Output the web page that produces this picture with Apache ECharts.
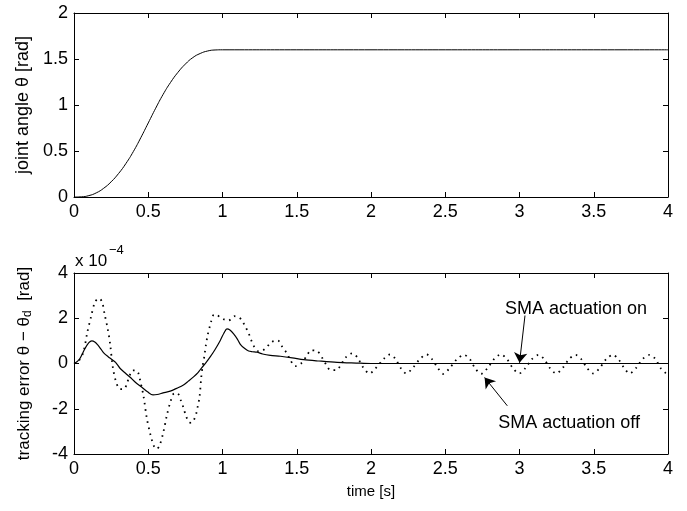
<!DOCTYPE html>
<html><head><meta charset="utf-8">
<script src="https://cdn.jsdelivr.net/npm/echarts@6/dist/echarts.min.js"></script>
<style>html,body{margin:0;padding:0;background:#fff}#c{width:687px;height:511px}</style>
</head><body><div id="c"></div>
<script>
// ---- data ----
const angleT = [0,0.05,0.1,0.15,0.2,0.25,0.3,0.35,0.4,0.45,0.5,0.55,0.6,0.65,0.7,0.75,0.8,0.85,0.9,0.95,1.0,1.5,2.0,2.5,3.0,3.5,4.0];
const angleV = [0,0.002,0.015,0.045,0.095,0.165,0.255,0.365,0.495,0.645,0.805,0.965,1.115,1.245,1.355,1.445,1.515,1.56,1.587,1.598,1.6,1.6,1.6,1.6,1.6,1.6,1.6];

const onT = [0,0.02,0.04,0.074,0.1,0.12,0.14,0.16,0.18,0.2,0.23,0.255,0.28,0.311,0.345,0.378,0.415,0.457,0.495,0.532,0.56,0.6,0.648,0.69,0.737,0.77,0.805,0.835,0.861,0.89,0.917,0.95,0.985,1.01,1.03,1.05,1.075,1.1,1.12,1.15,1.176,1.2,1.232,1.27,1.322,1.39,1.47,1.547,1.65,1.772,1.9,2.0,2.5,3.0,3.5,4.0];
const onV = [0,0.08,0.22,0.66,0.92,1.0,0.95,0.82,0.65,0.47,0.3,0.18,0.05,-0.22,-0.42,-0.61,-0.84,-1.05,-1.25,-1.39,-1.37,-1.3,-1.22,-1.1,-0.95,-0.78,-0.59,-0.4,-0.18,0.05,0.29,0.62,1.02,1.35,1.53,1.48,1.31,1.08,0.85,0.66,0.55,0.52,0.5,0.42,0.36,0.32,0.25,0.17,0.11,0.05,0.02,0.0,0.0,0.0,0.0,0.0];

const offT = [0,0.03,0.063,0.09,0.115,0.142,0.17,0.19,0.205,0.227,0.243,0.261,0.283,0.31,0.337,0.36,0.38,0.396,0.415,0.434,0.445,0.468,0.49,0.513,0.535,0.555,0.575,0.603,0.625,0.652,0.675,0.697,0.72,0.737,0.753,0.775,0.79,0.805,0.823,0.834,0.845,0.857,0.866,0.877,0.888,0.9,0.913,0.924,0.942,0.96,0.985,1.01,1.041,1.06,1.081,1.105,1.127,1.153,1.176,1.194,1.217,1.24,1.27,1.295,1.33,1.372,1.4,1.435,1.457,1.49,1.529,1.563,1.597,1.637,1.67,1.7,1.727,1.767,1.8,1.828,1.873,1.91,1.95,1.99,2.03,2.085,2.128,2.165,2.2,2.238,2.28,2.33,2.374,2.41,2.45,2.487,2.53,2.58,2.626,2.665,2.7,2.742,2.785,2.83,2.874,2.915,2.955,2.998,3.04,3.085,3.128,3.165,3.205,3.247,3.29,3.335,3.378,3.415,3.455,3.495,3.54,3.585,3.627,3.665,3.705,3.742,3.785,3.83,3.875,3.915,3.95,3.99,4.0];
const offV = [0,0.1,0.5,1.39,2.07,2.73,2.88,2.7,2.22,1.53,0.88,-0.15,-0.81,-1.13,-1.13,-0.81,-0.45,-0.3,-0.3,-0.44,-0.73,-1.43,-2.41,-3.1,-3.6,-3.78,-3.65,-3.0,-2.3,-1.64,-1.32,-1.32,-1.64,-1.95,-2.3,-2.6,-2.62,-2.53,-2.22,-1.87,-1.51,-0.6,-0.12,0.29,0.8,1.25,1.6,1.87,2.16,2.15,2.04,1.95,1.9,1.98,2.09,2.05,1.94,1.64,1.34,1.02,0.7,0.55,0.58,0.7,0.95,1.02,0.76,0.44,0.15,-0.12,0,0.29,0.58,0.55,0.26,-0.07,-0.29,-0.29,-0.03,0.26,0.45,0.25,-0.2,-0.44,-0.22,0.2,0.4,0.2,-0.2,-0.44,-0.2,0.2,0.4,0.2,-0.2,-0.46,-0.2,0.2,0.38,0.2,-0.2,-0.46,-0.2,0.2,0.4,0.2,-0.2,-0.44,-0.2,0.2,0.38,0.2,-0.2,-0.44,-0.2,0.2,0.38,0.2,-0.2,-0.44,-0.2,0.2,0.38,0.2,-0.2,-0.44,-0.2,0.2,0.38,0.2,-0.2,-0.42,-0.4];

const noteText = ['SMA actuation on', 'SMA actuation off'];
const noteAt = [[3.38, 2.41], [3.334, -2.63]];
const arrowFrom = [[3.037, 2.12], [2.918, -1.87]];
const arrowTo = [[3.0, 0.03], [2.765, -0.62]];

const xTicks = {min: 0, max: 4, interval: 0.5};
const yTopTicks = {min: 0, max: 2, interval: 0.5};
const yBotTicks = {min: -4, max: 4, interval: 2};

// ---- chart ----
const FONT = '"Liberation Sans", Arial, Helvetica, sans-serif';
const pair = (t, v) => t.map((x, i) => [x, v[i]]);

function axis(grid, pos, ticks, labels, extra) {
  return Object.assign({
    type: 'value', gridIndex: grid, position: pos,
    min: ticks.min, max: ticks.max, interval: ticks.interval,
    axisLine: {show: true, onZero: false, lineStyle: {color: '#000', width: 1}},
    axisTick: {show: true, inside: true, length: 5, lineStyle: {color: '#000', width: 1}},
    axisLabel: {show: labels, color: '#000', fontSize: 18, fontFamily: FONT,
      margin: 6, showMinLabel: true, showMaxLabel: true},
    splitLine: {show: false}
  }, extra || {});
}

const chart = echarts.init(document.getElementById('c'), null, {renderer: 'canvas'});
chart.setOption({
  animation: false,
  backgroundColor: '#fff',
  grid: [
    {left: 74, top: 13, width: 594, height: 184},
    {left: 74, top: 273, width: 594, height: 181}
  ],
  xAxis: [
    axis(0, 'bottom', xTicks, true),
    axis(0, 'top', xTicks, false),
    axis(1, 'bottom', xTicks, true, {
      name: 'time [s]', nameLocation: 'middle', nameGap: 30,
      nameTextStyle: {color: '#000', fontSize: 15, fontFamily: FONT}
    }),
    axis(1, 'top', xTicks, false)
  ],
  yAxis: [
    axis(0, 'left', yTopTicks, true, {
      name: 'joint angle θ [rad]', nameLocation: 'middle', nameGap: 41,
      nameTextStyle: {color: '#000', fontSize: 18, fontFamily: FONT}
    }),
    axis(0, 'right', yTopTicks, false),
    axis(1, 'left', yBotTicks, true, {
      name: 'tracking error θ − θ{sub|d}  [rad]', nameLocation: 'middle', nameGap: 40,
      nameTextStyle: {color: '#000', fontSize: 17, fontFamily: FONT, lineHeight: 20,
        rich: {sub: {fontSize: 12, fontFamily: FONT, color: '#000', verticalAlign: 'bottom', lineHeight: 8}}}
    }),
    axis(1, 'right', yBotTicks, false)
  ],
  graphic: [
    {type: 'text', left: 75, top: 253, style: {text: 'x 10', font: '17px ' + FONT, fill: '#000'}},
    {type: 'text', left: 109, top: 244, style: {text: '−4', font: '13px ' + FONT, fill: '#000'}}
  ],
  series: [
    {type: 'line', xAxisIndex: 0, yAxisIndex: 0, data: pair(angleT, angleV),
      showSymbol: false, smooth: 0.5,
      lineStyle: {color: '#000', width: 1}},
    {type: 'line', xAxisIndex: 2, yAxisIndex: 2, data: pair(offT, offV),
      showSymbol: false, smooth: 0.3,
      lineStyle: {color: '#000', width: 1.8, type: [1.6, 4.6]}},
    {type: 'line', xAxisIndex: 2, yAxisIndex: 2, data: pair(onT, onV),
      showSymbol: false, smooth: 0.3,
      lineStyle: {color: '#000', width: 1.2},
      markLine: {
        silent: true, animation: false,
        symbol: ['none', 'arrow'], symbolSize: 10,
        label: {show: false},
        lineStyle: {color: '#000', width: 1, type: 'solid'},
        emphasis: {disabled: true},
        data: arrowFrom.map((f, i) => [{coord: f}, {coord: arrowTo[i]}])
      },
      markPoint: {
        silent: true, animation: false,
        symbol: 'circle', symbolSize: 0,
        itemStyle: {color: 'transparent'},
        label: {show: true, position: 'inside', color: '#000', fontSize: 18, fontFamily: FONT,
          formatter: p => p.name},
        data: noteText.map((t, i) => ({name: t, coord: noteAt[i]}))
      }}
  ]
});
</script></body></html>
